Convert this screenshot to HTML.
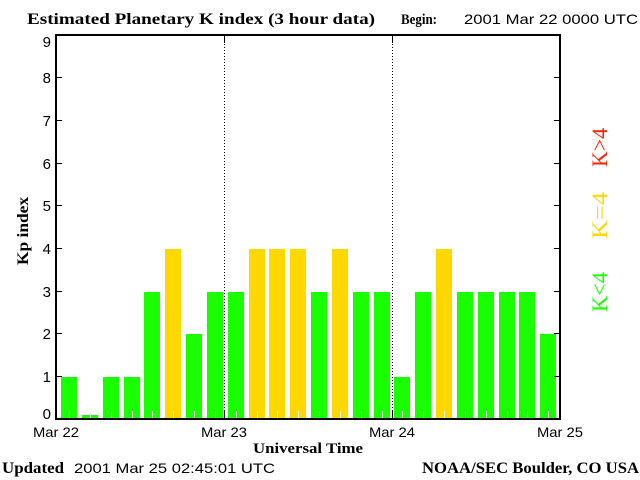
<!DOCTYPE html>
<html>
<head>
<meta charset="utf-8">
<style>
html,body{margin:0;padding:0;background:#fff;}
svg{display:block;}
.serif{font-family:"Liberation Serif",serif;font-weight:bold;}
.sans{font-family:"Liberation Sans",sans-serif;}
</style>
</head>
<body>
<svg width="640" height="480" viewBox="0 0 640 480" xmlns="http://www.w3.org/2000/svg">
<rect x="0" y="0" width="640" height="480" fill="#fff"/>

<!-- Title -->
<text class="serif" x="27" y="24" font-size="16" textLength="348" lengthAdjust="spacingAndGlyphs">Estimated Planetary K index (3 hour data)</text>
<text class="serif" x="401" y="24" font-size="15" textLength="36" lengthAdjust="spacingAndGlyphs">Begin:</text>
<text class="sans" x="464" y="24" font-size="14" textLength="174" lengthAdjust="spacingAndGlyphs">2001 Mar 22 0000 UTC</text>

<!-- Bars -->
<g shape-rendering="crispEdges">
<rect x="61" y="377" width="16" height="41" fill="#1aff00"/>
<rect x="82" y="415" width="16" height="3" fill="#1aff00"/>
<rect x="103" y="377" width="16" height="41" fill="#1aff00"/>
<rect x="124" y="377" width="16" height="41" fill="#1aff00"/>
<rect x="144" y="292" width="16" height="126" fill="#1aff00"/>
<rect x="165" y="249" width="16" height="169" fill="#ffd800"/>
<rect x="186" y="334" width="16" height="84" fill="#1aff00"/>
<rect x="207" y="292" width="16" height="126" fill="#1aff00"/>

<rect x="228" y="292" width="16" height="126" fill="#1aff00"/>
<rect x="249" y="249" width="16" height="169" fill="#ffd800"/>
<rect x="269" y="249" width="16" height="169" fill="#ffd800"/>
<rect x="290" y="249" width="16" height="169" fill="#ffd800"/>
<rect x="311" y="292" width="16" height="126" fill="#1aff00"/>
<rect x="332" y="249" width="16" height="169" fill="#ffd800"/>
<rect x="353" y="292" width="16" height="126" fill="#1aff00"/>
<rect x="374" y="292" width="16" height="126" fill="#1aff00"/>

<rect x="394" y="377" width="16" height="41" fill="#1aff00"/>
<rect x="415" y="292" width="16" height="126" fill="#1aff00"/>
<rect x="436" y="249" width="16" height="169" fill="#ffd800"/>
<rect x="457" y="292" width="16" height="126" fill="#1aff00"/>
<rect x="478" y="292" width="16" height="126" fill="#1aff00"/>
<rect x="499" y="292" width="16" height="126" fill="#1aff00"/>
<rect x="519" y="292" width="16" height="126" fill="#1aff00"/>
<rect x="540" y="334" width="16" height="84" fill="#1aff00"/>

<!-- white minor ticks inside bars -->
<g fill="#fff">
<rect x="69" y="411" width="1" height="7"/>
<rect x="90" y="411" width="1" height="7"/>
<rect x="111" y="411" width="1" height="7"/>
<rect x="132" y="411" width="1" height="7"/>
<rect x="152" y="411" width="1" height="7"/>
<rect x="173" y="411" width="1" height="7"/>
<rect x="194" y="411" width="1" height="7"/>
<rect x="215" y="411" width="1" height="7"/>
<rect x="236" y="411" width="1" height="7"/>
<rect x="257" y="411" width="1" height="7"/>
<rect x="277" y="411" width="1" height="7"/>
<rect x="298" y="411" width="1" height="7"/>
<rect x="319" y="411" width="1" height="7"/>
<rect x="340" y="411" width="1" height="7"/>
<rect x="361" y="411" width="1" height="7"/>
<rect x="382" y="411" width="1" height="7"/>
<rect x="402" y="411" width="1" height="7"/>
<rect x="423" y="411" width="1" height="7"/>
<rect x="444" y="411" width="1" height="7"/>
<rect x="465" y="411" width="1" height="7"/>
<rect x="486" y="411" width="1" height="7"/>
<rect x="507" y="411" width="1" height="7"/>
<rect x="527" y="411" width="1" height="7"/>
<rect x="548" y="411" width="1" height="7"/>
</g>

<!-- day separators (dotted) -->
<line x1="224.5" y1="35" x2="224.5" y2="419" stroke="#000" stroke-width="1" stroke-dasharray="1 2"/>
<line x1="392.5" y1="35" x2="392.5" y2="419" stroke="#000" stroke-width="1" stroke-dasharray="1 2"/>
<rect x="224" y="35" width="1" height="8" fill="#000"/>
<rect x="392" y="35" width="1" height="8" fill="#000"/>
<rect x="224" y="411" width="1" height="8" fill="#000"/>
<rect x="392" y="411" width="1" height="8" fill="#000"/>

<!-- frame -->
<rect x="55" y="34" width="2" height="386" fill="#000"/>
<rect x="559" y="34" width="2" height="386" fill="#000"/>
<rect x="55" y="34" width="506" height="2" fill="#000"/>
<rect x="55" y="418" width="506" height="2" fill="#000"/>

<!-- y ticks -->
<g fill="#000">
<rect x="57" y="376" width="5" height="1"/>
<rect x="57" y="333" width="5" height="1"/>
<rect x="57" y="291" width="5" height="1"/>
<rect x="57" y="248" width="5" height="1"/>
<rect x="57" y="205" width="5" height="1"/>
<rect x="57" y="163" width="5" height="1"/>
<rect x="57" y="120" width="5" height="1"/>
<rect x="57" y="77" width="5" height="1"/>
<rect x="554" y="376" width="5" height="1"/>
<rect x="554" y="333" width="5" height="1"/>
<rect x="554" y="291" width="5" height="1"/>
<rect x="554" y="248" width="5" height="1"/>
<rect x="554" y="205" width="5" height="1"/>
<rect x="554" y="163" width="5" height="1"/>
<rect x="554" y="120" width="5" height="1"/>
<rect x="554" y="77" width="5" height="1"/>
</g>
</g>

<!-- y labels -->
<g class="sans" font-size="15" text-anchor="end" fill="#000">
<text x="51" y="419">0</text>
<text x="51" y="382">1</text>
<text x="51" y="339">2</text>
<text x="51" y="297">3</text>
<text x="51" y="254">4</text>
<text x="51" y="211">5</text>
<text x="51" y="169">6</text>
<text x="51" y="126">7</text>
<text x="51" y="83">8</text>
<text x="51" y="47">9</text>
</g>

<!-- Kp index -->
<text class="serif" font-size="16" transform="translate(28,265) rotate(-90)" textLength="68" lengthAdjust="spacingAndGlyphs">Kp index</text>

<!-- x labels -->
<g class="sans" font-size="14" text-anchor="middle" fill="#000">
<text x="56" y="437" textLength="46" lengthAdjust="spacingAndGlyphs">Mar 22</text>
<text x="224" y="437" textLength="46" lengthAdjust="spacingAndGlyphs">Mar 23</text>
<text x="392" y="437" textLength="46" lengthAdjust="spacingAndGlyphs">Mar 24</text>
<text x="560" y="437" textLength="46" lengthAdjust="spacingAndGlyphs">Mar 25</text>
</g>
<text class="serif" x="253" y="453" font-size="15" textLength="110" lengthAdjust="spacingAndGlyphs">Universal Time</text>

<!-- legend -->
<text font-family="Liberation Serif, serif" font-size="22" fill="#ff2200" transform="translate(607,167) rotate(-90)" textLength="39" lengthAdjust="spacingAndGlyphs">K&gt;4</text>
<text font-family="Liberation Serif, serif" font-size="22" fill="#ffd800" transform="translate(607,239) rotate(-90)" textLength="47" lengthAdjust="spacingAndGlyphs">K=4</text>
<text font-family="Liberation Serif, serif" font-size="22" fill="#1aff00" transform="translate(607,312) rotate(-90)" textLength="40" lengthAdjust="spacingAndGlyphs">K&lt;4</text>

<!-- footer -->
<text class="serif" x="2" y="473" font-size="16" textLength="62" lengthAdjust="spacingAndGlyphs">Updated</text>
<text class="sans" x="74" y="473" font-size="14" textLength="201" lengthAdjust="spacingAndGlyphs">2001 Mar 25 02:45:01 UTC</text>
<text class="serif" x="422" y="473" font-size="16" textLength="217" lengthAdjust="spacingAndGlyphs">NOAA/SEC Boulder, CO USA</text>
</svg>
</body>
</html>
